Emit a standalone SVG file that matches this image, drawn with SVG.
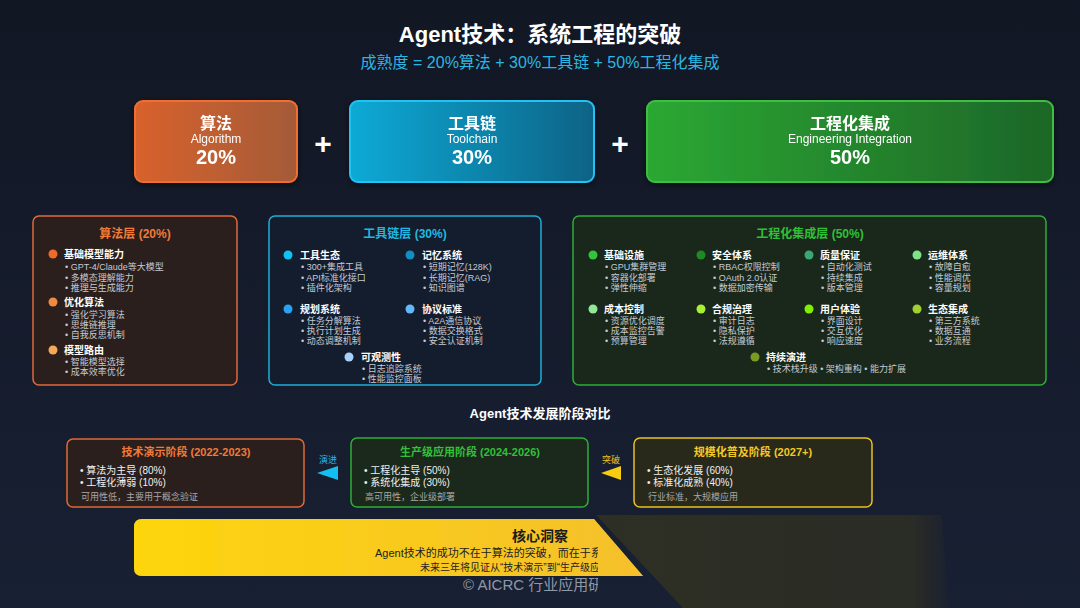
<svg xmlns="http://www.w3.org/2000/svg" width="1080" height="608" viewBox="0 0 1080 608">
<defs>
<linearGradient id="bg" x1="0" y1="0" x2="0" y2="1"><stop offset="0" stop-color="#121724"/><stop offset="1" stop-color="#182033"/></linearGradient>
<linearGradient id="gAlgo" x1="0" y1="0" x2="1" y2="0"><stop offset="0" stop-color="#d8622c"/><stop offset="1" stop-color="#a45a38"/></linearGradient>
<linearGradient id="gTool" x1="0" y1="0" x2="1" y2="0"><stop offset="0" stop-color="#08aad6"/><stop offset="1" stop-color="#0a6386"/></linearGradient>
<linearGradient id="gEng" x1="0" y1="0" x2="1" y2="0"><stop offset="0" stop-color="#2ba832"/><stop offset="1" stop-color="#1d6628"/></linearGradient>
<linearGradient id="gIns" x1="0" y1="0" x2="1" y2="0"><stop offset="0" stop-color="#fdd50c"/><stop offset="1" stop-color="#f5c02c"/></linearGradient>
<linearGradient id="gOl" x1="0" y1="0" x2="1" y2="0"><stop offset="0" stop-color="#2e2f24"/><stop offset="0.9" stop-color="#2a2c26"/><stop offset="1" stop-color="#1c2130"/></linearGradient>
<filter id="glowY" x="-5%" y="-30%" width="110%" height="160%"><feGaussianBlur in="SourceAlpha" stdDeviation="3"/><feFlood flood-color="#f5c518" flood-opacity="0.6"/><feComposite operator="in" in2="SourceGraphic"/><feMerge><feMergeNode/><feMergeNode in="SourceGraphic"/></feMerge></filter>
<filter id="sh" x="-10%" y="-20%" width="120%" height="140%"><feGaussianBlur in="SourceAlpha" stdDeviation="3"/><feOffset dy="2"/><feComponentTransfer><feFuncA type="linear" slope="0.5"/></feComponentTransfer><feMerge><feMergeNode/><feMergeNode in="SourceGraphic"/></feMerge></filter>
<clipPath id="cut"><rect x="0" y="500" width="598" height="108"/></clipPath>
</defs>
<style>
text{font-family:"Liberation Sans","Noto Sans CJK SC",sans-serif}
.c{text-anchor:middle}
.w{fill:#ffffff}
.b{font-weight:bold}
.ttl{font-size:12px;font-weight:bold}
.hd{font-size:10px;font-weight:bold;fill:#ffffff}
.it{font-size:9px;fill:#c6cad2}
.st{font-size:11px;font-weight:bold}
.si{font-size:10px;fill:#f0f0f0}
.sf{font-size:9px;fill:#a8a8a8}
.plus{font-size:30px;font-weight:bold;fill:#ffffff;text-anchor:middle}
</style>
<rect width="1080" height="608" fill="url(#bg)"/>

<g id="title">
<text x="540" y="42" class="c w b" font-size="22">Agent技术：系统工程的突破</text>
<text x="540" y="68" class="c" font-size="16" fill="#2cb6e2">成熟度 = 20%算法 + 30%工具链 + 50%工程化集成</text>
</g>

<g id="box-algo" filter="url(#sh)">
<rect x="135" y="101" width="162" height="81" rx="8" fill="url(#gAlgo)" stroke="#f26d30" stroke-width="2"/>
<text x="216" y="129" class="c w b" font-size="16">算法</text>
<text x="216" y="143" class="c w" font-size="12">Algorithm</text>
<text x="216" y="164" class="c w b" font-size="20">20%</text>
</g>
<g id="plus1"><text x="323" y="154" class="plus">+</text></g>
<g id="box-tool" filter="url(#sh)">
<rect x="350" y="101" width="244" height="81" rx="8" fill="url(#gTool)" stroke="#22c2f2" stroke-width="2"/>
<text x="472" y="129" class="c w b" font-size="16">工具链</text>
<text x="472" y="143" class="c w" font-size="12">Toolchain</text>
<text x="472" y="164" class="c w b" font-size="20">30%</text>
</g>
<g id="plus2"><text x="620" y="154" class="plus">+</text></g>
<g id="box-eng" filter="url(#sh)">
<rect x="647" y="101" width="406" height="81" rx="8" fill="url(#gEng)" stroke="#3cc042" stroke-width="2"/>
<text x="850" y="129" class="c w b" font-size="16">工程化集成</text>
<text x="850" y="143" class="c w" font-size="12">Engineering Integration</text>
<text x="850" y="164" class="c w b" font-size="20">50%</text>
</g>

<g id="layer-algo">
<rect x="33" y="216" width="204" height="169" rx="6" fill="#2a1f1d" stroke="#e06a38" stroke-width="1.5"/>
<text x="135" y="238" class="c ttl" fill="#f07a38">算法层 (20%)</text>
<circle cx="53" cy="254" r="4.5" fill="#f06a2c"/>
<text x="64" y="258" class="hd">基础模型能力</text>
<text x="65" y="270" class="it">• GPT-4/Claude等大模型</text>
<text x="65" y="281" class="it">• 多模态理解能力</text>
<text x="65" y="291" class="it">• 推理与生成能力</text>
<circle cx="53" cy="302" r="4.5" fill="#f08a42"/>
<text x="64" y="306" class="hd">优化算法</text>
<text x="65" y="318" class="it">• 强化学习算法</text>
<text x="65" y="328" class="it">• 思维链推理</text>
<text x="65" y="338" class="it">• 自我反思机制</text>
<circle cx="53" cy="350" r="4.5" fill="#f4a85a"/>
<text x="64" y="354" class="hd">模型路由</text>
<text x="65" y="365" class="it">• 智能模型选择</text>
<text x="65" y="375" class="it">• 成本效率优化</text>
</g>

<g id="layer-tool">
<rect x="269" y="216" width="272" height="169" rx="6" fill="#141d2d" stroke="#1eaed8" stroke-width="1.5"/>
<text x="405" y="238" class="c ttl" fill="#20b8e2">工具链层 (30%)</text>
<circle cx="288" cy="255" r="4.5" fill="#10c2f2"/>
<text x="300" y="259" class="hd">工具生态</text>
<text x="301" y="270" class="it">• 300+集成工具</text>
<text x="301" y="281" class="it">• API标准化接口</text>
<text x="301" y="291" class="it">• 插件化架构</text>
<circle cx="410" cy="255" r="4.5" fill="#1090c2"/>
<text x="422" y="259" class="hd">记忆系统</text>
<text x="423" y="270" class="it">• 短期记忆(128K)</text>
<text x="423" y="281" class="it">• 长期记忆(RAG)</text>
<text x="423" y="291" class="it">• 知识图谱</text>
<circle cx="288" cy="309" r="4.5" fill="#2aa2f2"/>
<text x="300" y="313" class="hd">规划系统</text>
<text x="301" y="324" class="it">• 任务分解算法</text>
<text x="301" y="334" class="it">• 执行计划生成</text>
<text x="301" y="344" class="it">• 动态调整机制</text>
<circle cx="410" cy="309" r="4.5" fill="#62b8f8"/>
<text x="422" y="313" class="hd">协议标准</text>
<text x="423" y="324" class="it">• A2A通信协议</text>
<text x="423" y="334" class="it">• 数据交换格式</text>
<text x="423" y="344" class="it">• 安全认证机制</text>
<circle cx="349" cy="357" r="4.5" fill="#a8d0f8"/>
<text x="361" y="361" class="hd">可观测性</text>
<text x="362" y="372" class="it">• 日志追踪系统</text>
<text x="362" y="382" class="it">• 性能监控面板</text>
</g>

<g id="layer-eng">
<rect x="573" y="216" width="473" height="169" rx="6" fill="#19281b" stroke="#2eae36" stroke-width="1.5"/>
<text x="810" y="238" class="c ttl" fill="#30c036">工程化集成层 (50%)</text>
<circle cx="593" cy="255" r="4.5" fill="#32c43a"/>
<text x="604" y="259" class="hd">基础设施</text>
<text x="605" y="270" class="it">• GPU集群管理</text>
<text x="605" y="281" class="it">• 容器化部署</text>
<text x="605" y="291" class="it">• 弹性伸缩</text>
<circle cx="701" cy="255" r="4.5" fill="#1e8a24"/>
<text x="712" y="259" class="hd">安全体系</text>
<text x="713" y="270" class="it">• RBAC权限控制</text>
<text x="713" y="281" class="it">• OAuth 2.0认证</text>
<text x="713" y="291" class="it">• 数据加密传输</text>
<circle cx="809" cy="255" r="4.5" fill="#3aa872"/>
<text x="820" y="259" class="hd">质量保证</text>
<text x="821" y="270" class="it">• 自动化测试</text>
<text x="821" y="281" class="it">• 持续集成</text>
<text x="821" y="291" class="it">• 版本管理</text>
<circle cx="917" cy="255" r="4.5" fill="#80e288"/>
<text x="928" y="259" class="hd">运维体系</text>
<text x="929" y="270" class="it">• 故障自愈</text>
<text x="929" y="281" class="it">• 性能调优</text>
<text x="929" y="291" class="it">• 容量规划</text>
<circle cx="593" cy="309" r="4.5" fill="#92e898"/>
<text x="604" y="313" class="hd">成本控制</text>
<text x="605" y="324" class="it">• 资源优化调度</text>
<text x="605" y="334" class="it">• 成本监控告警</text>
<text x="605" y="344" class="it">• 预算管理</text>
<circle cx="701" cy="309" r="4.5" fill="#a8f034"/>
<text x="712" y="313" class="hd">合规治理</text>
<text x="713" y="324" class="it">• 审计日志</text>
<text x="713" y="334" class="it">• 隐私保护</text>
<text x="713" y="344" class="it">• 法规遵循</text>
<circle cx="809" cy="309" r="4.5" fill="#7ef000"/>
<text x="820" y="313" class="hd">用户体验</text>
<text x="821" y="324" class="it">• 界面设计</text>
<text x="821" y="334" class="it">• 交互优化</text>
<text x="821" y="344" class="it">• 响应速度</text>
<circle cx="917" cy="309" r="4.5" fill="#a2d030"/>
<text x="928" y="313" class="hd">生态集成</text>
<text x="929" y="324" class="it">• 第三方系统</text>
<text x="929" y="334" class="it">• 数据互通</text>
<text x="929" y="344" class="it">• 业务流程</text>
<circle cx="755" cy="357" r="4.5" fill="#7a9a22"/>
<text x="766" y="361" class="hd">持续演进</text>
<text x="767" y="372" class="it">• 技术栈升级 • 架构重构 • 能力扩展</text>
</g>

<g id="section-title">
<text x="540" y="418" class="c w b" font-size="13">Agent技术发展阶段对比</text>
</g>

<g id="stage-1">
<rect x="67" y="439" width="237" height="68" rx="6" fill="#2a1f1d" stroke="#e06a38" stroke-width="1.5"/>
<text x="186" y="456" class="c st" fill="#f07a38">技术演示阶段 (2022-2023)</text>
<text x="80" y="474" class="si">• 算法为主导 (80%)</text>
<text x="80" y="486" class="si">• 工程化薄弱 (10%)</text>
<text x="81" y="500" class="sf">可用性低，主要用于概念验证</text>
</g>
<g id="stage-2">
<rect x="351" y="438" width="237" height="69" rx="6" fill="#1a291b" stroke="#2eae36" stroke-width="1.5"/>
<text x="470" y="456" class="c st" fill="#32c03a">生产级应用阶段 (2024-2026)</text>
<text x="364" y="474" class="si">• 工程化主导 (50%)</text>
<text x="364" y="486" class="si">• 系统化集成 (30%)</text>
<text x="365" y="500" class="sf">高可用性，企业级部署</text>
</g>
<g id="stage-3">
<rect x="634" y="438" width="238" height="69" rx="6" fill="#29291b" stroke="#e8c222" stroke-width="1.5"/>
<text x="753" y="456" class="c st" fill="#f2c824">规模化普及阶段 (2027+)</text>
<text x="647" y="474" class="si">• 生态化发展 (60%)</text>
<text x="647" y="486" class="si">• 标准化成熟 (40%)</text>
<text x="648" y="500" class="sf">行业标准，大规模应用</text>
</g>

<g id="connectors">
<text x="328" y="463" class="c" font-size="9" fill="#22b8e6">演进</text>
<polygon points="317,473 338,466 338,480" fill="#12bff0"/>
<text x="611" y="463" class="c" font-size="9" fill="#f0c420">突破</text>
<polygon points="601,473 621,466 621,480" fill="#f8cc10"/>
</g>

<g id="insight">
<polygon points="596,515 942,515 948,608 683,608" fill="url(#gOl)"/>
<path d="M142,519 L594,519 L643,576 L142,576 Q134,576 134,568 L134,527 Q134,519 142,519 Z" fill="url(#gIns)" filter="url(#glowY)"/>
<text x="540" y="541" class="c b" font-size="14" fill="#1a1a1a">核心洞察</text>
<g clip-path="url(#cut)">
<text x="375" y="557" font-size="11" fill="#222222">Agent技术的成功不在于算法的突破，而在于系统</text>
<text x="420" y="571" font-size="10" fill="#222222">未来三年将见证从“技术演示”到“生产级应用</text>
<text x="463" y="590" font-size="15" fill="#9198a6">© AICRC 行业应用研</text>
</g>
</g>
</svg>
